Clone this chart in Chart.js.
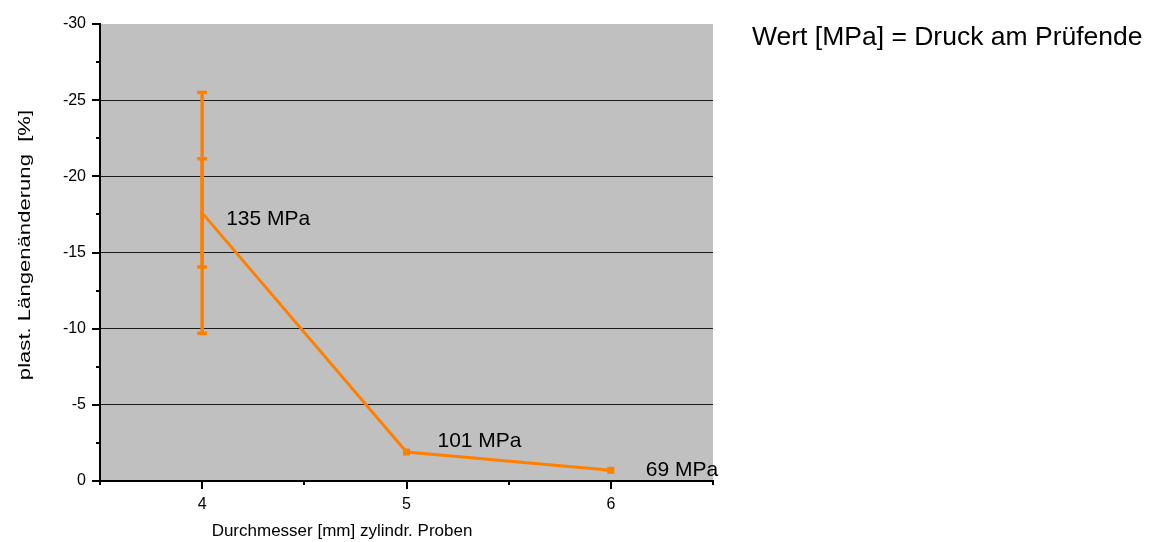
<!DOCTYPE html>
<html>
<head>
<meta charset="utf-8">
<script src="https://cdn.jsdelivr.net/npm/chart.js@4.4.0/dist/chart.umd.min.js"></script>
<style>
    body { margin: 0; background: #fff; }
    #wrap { width: 1175px; height: 542px; }
</style>
</head>
<body>
<div id="wrap"><canvas id="strainChart" width="1175" height="542"></canvas></div>
<script>
// Data
const diameters = [4, 5, 6];
const strainValues = [-17.6, -1.9, -0.7];
const errInner = [3.55, null, null];
const errOuter = [7.9, null, null];
const pressureLabels = ['135 MPa', '101 MPa', '69 MPa'];

const xTickValues = [3.5, 4, 4.5, 5, 5.5, 6, 6.5];
const yTickValues = [-30, -27.5, -25, -22.5, -20, -17.5, -15, -12.5, -10, -7.5, -5, -2.5, 0];

const ORANGE = '#ff8000';
const FONT = 'Liberation Sans, Arial, sans-serif';

// Grey plot background
const plotBackground = {
    id: 'plotBackground',
    beforeDraw: (chart) => {
        const { ctx, chartArea: a } = chart;
        ctx.save();
        ctx.fillStyle = '#c0c0c0';
        ctx.fillRect(a.left, a.top, a.right - a.left, a.bottom - a.top);
        ctx.restore();
    }
};

// Major / minor tick marks on both axes
const tickMarks = {
    id: 'tickMarks',
    afterDraw: (chart) => {
        const { ctx, chartArea: a, scales: { x, y } } = chart;
        ctx.save();
        ctx.strokeStyle = '#000';
        ctx.lineWidth = 2;
        ctx.beginPath();
        xTickValues.forEach(v => {
            const px = Math.round(x.getPixelForValue(v));
            const len = Number.isInteger(v) ? 8 : 4;
            ctx.moveTo(px, a.bottom);
            ctx.lineTo(px, a.bottom + len);
        });
        yTickValues.forEach(v => {
            const py = Math.round(y.getPixelForValue(v));
            const len = v % 5 === 0 ? 8 : 4;
            ctx.moveTo(a.left, py);
            ctx.lineTo(a.left - len, py);
        });
        ctx.stroke();
        ctx.restore();
    }
};

// Error bars at the first point
const errorBars = {
    id: 'errorBars',
    afterDatasetsDraw: (chart) => {
        const { ctx, scales: { x, y } } = chart;
        ctx.save();
        ctx.strokeStyle = ORANGE;
        ctx.lineWidth = 3.5;
        diameters.forEach((d, i) => {
            const px = x.getPixelForValue(d);
            [errOuter[i], errInner[i]].forEach(err => {
                if (err == null) return;
                const top = y.getPixelForValue(strainValues[i] - err);
                const bot = y.getPixelForValue(strainValues[i] + err);
                ctx.beginPath();
                ctx.moveTo(px, top);
                ctx.lineTo(px, bot);
                ctx.moveTo(px - 5, top);
                ctx.lineTo(px + 5, top);
                ctx.moveTo(px - 5, bot);
                ctx.lineTo(px + 5, bot);
                ctx.stroke();
            });
        });
        ctx.restore();
    }
};

// Pressure labels next to points, note text and axis titles
const labelOffsets = [[24, 6], [31, -11], [35, 0]];
const textLabels = {
    id: 'textLabels',
    afterDraw: (chart) => {
        const { ctx, chartArea: a, scales: { x, y } } = chart;
        ctx.save();
        ctx.fillStyle = '#000';
        ctx.textBaseline = 'middle';
        ctx.textAlign = 'left';
        ctx.font = `21px ${FONT}`;
        diameters.forEach((d, i) => {
            const [dx, dy] = labelOffsets[i];
            ctx.fillText(pressureLabels[i], x.getPixelForValue(d) + dx, y.getPixelForValue(strainValues[i]) + dy);
        });
        ctx.font = `26.5px ${FONT}`;
        ctx.fillText('Wert [MPa] = Druck am Prüfende', a.right + 39, 38);
        ctx.font = `17px ${FONT}`;
        ctx.textAlign = 'center';
        ctx.fillText('Durchmesser [mm] zylindr. Proben', 342, 531);
        // y title: the reference text is stretched along its length
        ctx.translate(25, 245);
        ctx.rotate(-Math.PI / 2);
        ctx.scale(1.3, 1);
        ctx.fillText('plast. Längenänderung  [%]', 0, 0);
        ctx.restore();
    }
};

const initStrainChart = () => {
    const ctx = document.getElementById('strainChart').getContext('2d');
    return new Chart(ctx, {
        type: 'line',
        data: {
            datasets: [{
                data: diameters.map((d, i) => ({ x: d, y: strainValues[i] })),
                borderColor: ORANGE,
                backgroundColor: ORANGE,
                borderWidth: 3,
                tension: 0,
                pointStyle: 'rect',
                pointRadius: (c) => (errOuter[c.dataIndex] != null ? 0 : 5),
                pointBorderWidth: 0
            }]
        },
        options: {
            responsive: false,
            animation: false,
            layout: { padding: { top: 24, right: 462, left: 0, bottom: 0 } },
            plugins: {
                legend: { display: false },
                tooltip: { enabled: false }
            },
            scales: {
                x: {
                    type: 'linear',
                    min: 3.5,
                    max: 6.5,
                    afterFit: (s) => { s.height = 61; },
                    afterBuildTicks: (s) => { s.ticks = xTickValues.map(v => ({ value: v })); },
                    ticks: {
                        autoSkip: false,
                        maxRotation: 0,
                        padding: 6,
                        color: '#000',
                        font: { family: FONT, size: 16 },
                        callback: (v) => (Number.isInteger(v) ? String(v) : '')
                    },
                    grid: { display: false },
                    border: { display: true, color: '#000', width: 2 }
                },
                y: {
                    type: 'linear',
                    min: -30,
                    max: 0,
                    reverse: true,
                    afterFit: (s) => { s.width = 100; },
                    afterBuildTicks: (s) => { s.ticks = yTickValues.map(v => ({ value: v })); },
                    ticks: {
                        autoSkip: false,
                        padding: 14,
                        color: '#000',
                        font: { family: FONT, size: 16 },
                        callback: (v) => (v % 5 === 0 ? String(v) : '')
                    },
                    grid: {
                        drawTicks: false,
                        lineWidth: 1,
                        color: (c) => {
                            const v = c.tick ? c.tick.value : null;
                            return (v !== null && v % 5 === 0 && v !== 0 && v !== -30) ? '#1a1a1a' : 'rgba(0,0,0,0)';
                        }
                    },
                    border: { display: true, color: '#000', width: 2 }
                }
            }
        },
        plugins: [plotBackground, errorBars, tickMarks, textLabels]
    });
};

document.addEventListener('DOMContentLoaded', () => {
    window.strainChart = initStrainChart();
});
</script>
</body>
</html>
